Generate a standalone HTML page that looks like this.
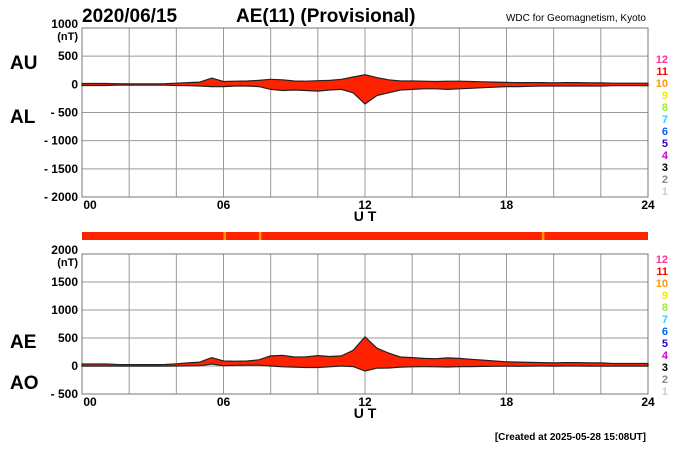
<!DOCTYPE html>
<html><head><meta charset="utf-8">
<style>
html,body{margin:0;padding:0;background:#fff;}
svg{display:block;font-family:"Liberation Sans",Arial,sans-serif;font-weight:bold;}
</style></head>
<body>
<svg id="chart" width="700" height="450" viewBox="0 0 700 450">
<text x="82" y="22" font-size="19">2020/06/15</text>
<text x="236" y="22" font-size="19">AE(11) (Provisional)</text>
<text x="646" y="21" font-size="10" font-weight="normal" text-anchor="end">WDC for Geomagnetism, Kyoto</text>
<text x="10" y="69" font-size="19">AU</text>
<text x="10" y="123" font-size="19">AL</text>
<text x="10" y="348" font-size="19">AE</text>
<text x="10" y="389" font-size="19">AO</text>
<text x="646" y="440" font-size="10" text-anchor="end">[Created at 2025-05-28 15:08UT]</text>
<g id="p1"></g>
<g id="bar"></g>
<g id="p2"></g>
<g id="leg1"></g>
<g id="leg2"></g>
</svg>
<script>
const hours = [0,0.5,1,1.5,2,2.5,3,3.5,4,4.5,5,5.5,6,6.5,7,7.5,8,8.5,9,9.5,10,10.5,11,11.5,12,12.5,13,13.5,14,14.5,15,15.5,16,16.5,17,17.5,18,18.5,19,19.5,20,20.5,21,21.5,22,22.5,23,23.5,24];
const auValues = [15,15,15,12,10,10,10,12,20,30,40,110,50,55,60,70,90,80,60,55,65,70,90,130,170,120,80,60,60,55,50,55,55,50,45,40,35,30,30,30,25,30,30,25,25,20,20,20,20];
const alValues = [-20,-20,-20,-15,-15,-15,-15,-15,-20,-25,-30,-40,-40,-30,-30,-40,-90,-110,-100,-110,-120,-100,-90,-150,-350,-200,-150,-100,-90,-80,-80,-90,-80,-70,-60,-50,-40,-40,-35,-30,-30,-30,-30,-30,-30,-25,-25,-25,-25];
const stationCounts = [11,11,11,11,11,11,11,11,11,11,11,11,10,11,11,10,11,11,11,11,11,11,11,11,11,11,11,11,11,11,11,11,11,11,11,11,11,11,11,10,11,11,11,11,11,11,11,11,11];
const xTicks = ["00","06","12","18","24"];
const y1Ticks = [1000,500,0,-500,-1000,-1500,-2000];
const y2Ticks = [2000,1500,1000,500,0,-500];
const legendLabels = ["12","11","10","9","8","7","6","5","4","3","2","1"];
const legendColors = ["#ff3399","#ff0000","#ff9900","#eeee00","#99ee33","#33ccff","#0066ff","#3300cc","#cc00cc","#000000","#888888","#cccccc"];

const NS="http://www.w3.org/2000/svg";
const X0=82,X1=648;
const xs=h=>X0+(X1-X0)*h/24;
function mk(p,tag,at){const e=document.createElementNS(NS,tag);for(const k in at)e.setAttribute(k,at[k]);p.appendChild(e);return e;}

function panel(g,top,bot,vmax,vmin,ticks,upper,lower){
  const ys=v=>top+(bot-top)*(vmax-v)/(vmax-vmin);
  for(let i=0;i<=12;i++){const l=mk(g,'line',{x1:xs(i*2),x2:xs(i*2),y1:top,y2:bot,stroke:'#999','stroke-width':1});
    }
  ticks.forEach((t,i)=>{const l=mk(g,'line',{x1:X0,x2:X1,y1:ys(t),y2:ys(t),stroke:'#999','stroke-width':1});
    
    const tx=mk(g,'text',{x:X0-4,y:ys(t)+(i===0?0:4),'font-size':12,'text-anchor':'end'});
    tx.textContent=t<0?'- '+(-t):String(t);
    
    if(i===0){const u=mk(g,'text',{x:X0-4,y:ys(t)+12,'font-size':11,'text-anchor':'end'});u.textContent='(nT)';
      }
  });
  mk(g,'rect',{x:X0,y:top,width:X1-X0,height:bot-top,fill:'none',stroke:'#777','stroke-width':1});
  let d='M'+hours.map((h,i)=>xs(h).toFixed(1)+','+ys(upper[i]).toFixed(1)).join('L');
  for(let i=hours.length-1;i>=0;i--)d+='L'+xs(hours[i]).toFixed(1)+','+ys(lower[i]).toFixed(1);
  const a=mk(g,'path',{d:d+'Z',fill:'#ff2200',stroke:'#222','stroke-width':1.2});
  
  xTicks.forEach((t,i)=>{const tx=mk(g,'text',{x:xs(i*6)+(i===0?8:0),y:bot+12,'font-size':12,'text-anchor':'middle'});tx.textContent=t;
    });
  const ut=mk(g,'text',{x:xs(12),y:bot+24,'font-size':14,'text-anchor':'middle'});ut.textContent='U T';
  
}
panel(document.getElementById('p1'),28,197,1000,-2000,y1Ticks,auValues,alValues);
const ae=auValues.map((v,i)=>v-alValues[i]);
const ao=auValues.map((v,i)=>(v+alValues[i])/2);
panel(document.getElementById('p2'),254,394,2000,-500,y2Ticks,ae,ao);

const bar=document.getElementById('bar');
const colorFor=n=>legendColors[legendLabels.indexOf(String(n))];
mk(bar,'rect',{x:X0,y:232,width:X1-X0,height:8,fill:'#ff2200'});
stationCounts.forEach((n,i)=>{if(n===11)return;const x=xs(hours[i]),w=2.5;
  const r=mk(bar,'rect',{x:x,y:232,width:w,height:8,fill:colorFor(n)});
  });

function legend(g,y0){legendLabels.forEach((l,i)=>{const t=mk(g,'text',{x:668,y:y0+i*12,'font-size':11,'text-anchor':'end',fill:legendColors[i]});t.textContent=l;
  });}
legend(document.getElementById('leg1'),63);
legend(document.getElementById('leg2'),263);
</script>
</body></html>
